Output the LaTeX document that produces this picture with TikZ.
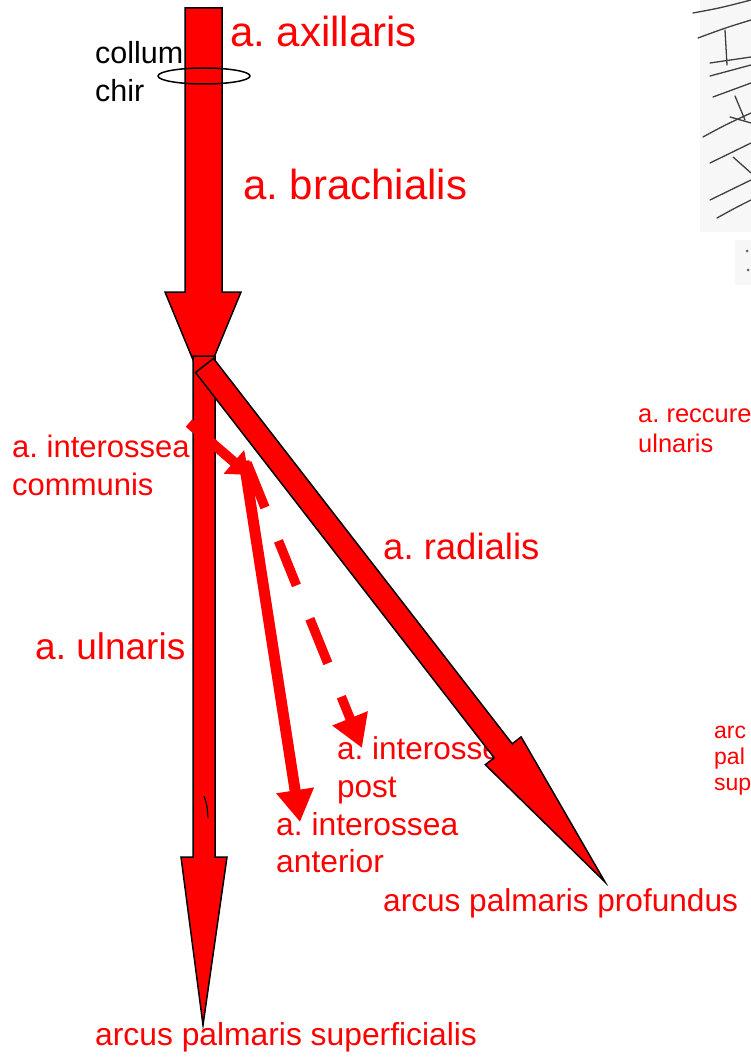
\documentclass[tikz,border=0pt]{standalone}
\usepackage{fontspec}
\setmainfont{Liberation Sans}
\usetikzlibrary{arrows.meta}
\frenchspacing
\newcommand\myfs[2]{\fontsize{#1}{#2}\selectfont}
\definecolor{artred}{RGB}{255,0,0}
\tikzset{
  lbl/.style={text=artred, inner sep=0pt, anchor=base west, align=left},
  blk/.style={text=black, inner sep=0pt, anchor=base west, align=left},
  bigarrow/.style={fill=artred, draw=black, line width=1.5pt, line join=miter},
  scan/.style={draw=black!75, line width=1.3pt, line cap=round},
}
\begin{document}
\begin{tikzpicture}[x=1pt,y=-1pt]
\useasboundingbox (0,0) rectangle (751,1059);
\clip (0,0) rectangle (751,1059);
\fill[white] (0,0) rectangle (751,1059);

% scanned sketch at top right
\fill[black!3] (700,0) rectangle (751,232);
\fill[black!3] (735,240) rectangle (751,285);
\draw[scan] (693,13) .. controls (720,8) .. (751,0);
\draw[scan] (698,38) .. controls (725,28) .. (751,20);
\draw[scan] (725,30) -- (727,65);
\draw[scan] (710,63) .. controls (730,60) .. (751,57);
\draw[scan] (710,76) .. controls (730,70) .. (751,65);
\draw[scan] (713,97) .. controls (732,90) .. (751,83);
\draw[scan] (735,96) -- (745,120);
\draw[scan] (730,117) -- (751,123);
\draw[scan] (703,137) .. controls (725,125) .. (751,113);
\draw[scan] (710,163) .. controls (730,153) .. (751,143);
\draw[scan] (733,157) -- (751,173);
\draw[scan] (710,200) .. controls (730,190) .. (751,180);
\draw[scan] (717,218) .. controls (735,208) .. (751,200);
\fill[black!60] (747,251) circle (1.5);
\fill[black!60] (748,270) circle (1.5);

% texts that lie under the arrows
\node[lbl, font=\myfs{31.5}{38}] (post) at (337,797) {a. interossea\\post};
\node[lbl, font=\myfs{31}{38}] (comm) at (12,495) {a. interossea\\communis};

% a. brachialis arrow
\draw[bigarrow] (185,8) -- (222,8) -- (222,292) -- (241,292) -- (203,384)
  -- (165,292) -- (185,292) -- cycle;

% a. ulnaris arrow
\draw[bigarrow] (193,356) -- (215,356) -- (215,857) -- (227,857) -- (203,1025)
  -- (181,857) -- (193,857) -- cycle;
\draw[black, line width=1.2pt] (204,796) .. controls (207,805) .. (208,818);

% interossea branches
\draw[draw=artred, line width=10pt, -{Triangle[length=20pt,width=30pt]}]
  (189,423) -- (249,475);
\draw[draw=artred, line width=11pt, -{Triangle[length=32pt,width=36pt]}]
  (244,461) -- (300,822);
\draw[draw=artred, line width=9.5pt, dash pattern=on 48pt off 36pt,
  -{Triangle[length=32pt,width=36pt]}]
  (247,463) -- (362,748);

% a. radialis arrow
\draw[bigarrow] (213.5,358.5) -- (195.5,372.5) -- (494.2,757.8) -- (485.3,764.7)
  -- (605,882) -- (521.1,736.9) -- (512.2,743.8) -- cycle;

% collum chirurgicum ring
\draw[black, line width=1.5pt] (204,76) ellipse (46 and 8);

% labels
\node[lbl, font=\myfs{42}{48}] (axil) at (230,47) {a. axillaris};
\node[lbl, font=\myfs{42}{48}] (brach) at (243,200) {a. brachialis};
\node[blk, font=\myfs{30.5}{38}] (collum) at (95,102) {collum\\chir};
\node[lbl, font=\myfs{36.5}{44}] (rad) at (383,559) {a. radialis};
\node[lbl, font=\myfs{37}{44}] (uln) at (35,659) {a. ulnaris};
\node[lbl, font=\myfs{31.8}{37}] (ant) at (276,872) {a. interossea\\anterior};
\node[lbl, font=\myfs{31.6}{38}] (prof) at (383,911) {arcus palmaris profundus};
\node[lbl, font=\myfs{31.8}{38}] (sup) at (95,1045) {arcus palmaris superficialis};
\node[lbl, font=\myfs{25.5}{30}] (recc) at (638,452) {a. reccure\\ulnaris};
\node[lbl, font=\myfs{23}{26}] (arcs) at (714,790) {arc\\pal\\sup};
\end{tikzpicture}
\end{document}
